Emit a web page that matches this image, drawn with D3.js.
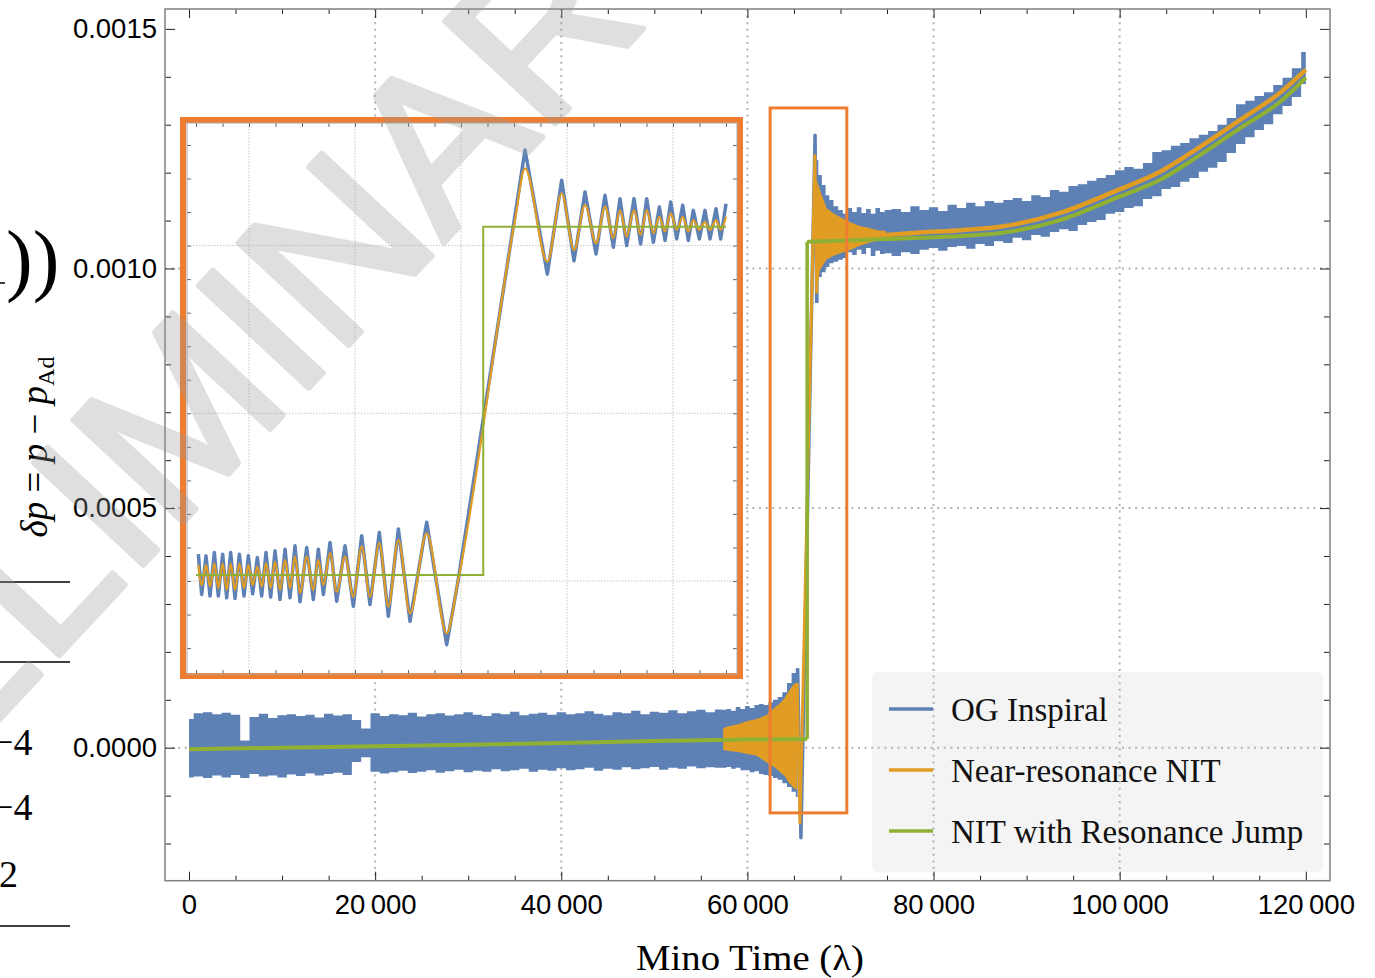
<!DOCTYPE html>
<html>
<head>
<meta charset="utf-8">
<script src="https://d3js.org/d3.v7.min.js"></script>
<style>
body { margin: 0; background: #fff; }
</style>
</head>
<body>
<div id="viz"></div>
<script>
// ---------- data (delta p values are in units of 1e-4) ----------
const xTicks = [0, 20000, 40000, 60000, 80000, 100000, 120000];
const yTicks = [0, 5, 10, 15];
const xGrid = [20000, 40000, 60000, 80000, 100000];
const yGrid = [0, 5, 10];
const seriesNames = ["OG Inspiral", "Near-resonance NIT", "NIT with Resonance Jump"];
const seriesColors = ["#5e81b5", "#e19c24", "#8fb032"];

// OG Inspiral: envelope (top / bottom) of the fast oscillation
const bandT = [0,1000,2000,3000,4000,5000,6000,7000,8000,9000,10000,11000,12000,13000,14000,15000,16000,17000,18000,19000,
  20000,21000,22000,23000,24000,25000,26000,27000,28000,29000,30000,31000,32000,33000,34000,35000,36000,37000,38000,39000,
  40000,41000,42000,43000,44000,45000,46000,47000,48000,49000,50000,51000,52000,53000,54000,55000,56000,57000,
  57500,58000,58500,59000,59500,60000,60500,61000,61500,62000,62500,63000,63500,64000,64500,65000,65400,
  67450,67800,68200,68600,69000,69500,70000,70500,71000,71500,72000,72500,73000,73500,74000,74500,75000,
  76000,77000,78000,79000,80000,81000,82000,83000,84000,85000,86000,87000,88000,89000,90000,91000,92000,93000,94000,95000,
  96000,97000,98000,99000,100000,101000,102000,103000,104000,105000,106000,107000,108000,109000,110000,111000,112000,113000,
  114000,115000,116000,117000,118000,119000,120000];
const bandHi = [0.60,0.72,0.74,0.70,0.73,0.69,0.15,0.64,0.71,0.62,0.68,0.70,0.66,0.69,0.63,0.71,0.67,0.70,0.58,0.40,
  0.72,0.66,0.70,0.68,0.73,0.65,0.70,0.72,0.67,0.70,0.74,0.69,0.66,0.72,0.70,0.75,0.68,0.71,0.73,0.69,
  0.74,0.70,0.72,0.76,0.71,0.68,0.74,0.72,0.77,0.70,0.75,0.73,0.78,0.72,0.76,0.79,0.74,0.80,
  0.79,0.81,0.77,0.85,0.81,0.87,0.83,0.89,0.91,0.89,0.95,1.00,1.06,1.16,1.35,1.56,1.66,
  12.26,11.95,11.74,11.53,11.43,11.30,11.22,11.14,11.26,11.18,11.28,11.16,11.24,11.14,11.26,11.18,11.22,
  11.24,11.18,11.30,11.22,11.28,11.20,11.33,11.26,11.37,11.30,11.41,11.37,11.43,11.47,11.41,11.53,11.49,11.64,11.60,11.72,
  11.76,11.83,11.89,11.95,12.05,12.12,12.08,12.20,12.43,12.47,12.56,12.62,12.72,12.79,12.87,13.00,13.14,13.43,
  13.50,13.60,13.68,13.83,13.98,14.18,14.52];
const bandLo = [-0.62,-0.60,-0.63,-0.58,-0.62,-0.57,-0.63,-0.55,-0.60,-0.58,-0.62,-0.56,-0.59,-0.54,-0.58,-0.55,-0.52,-0.57,-0.30,-0.20,
  -0.50,-0.54,-0.51,-0.48,-0.53,-0.50,-0.47,-0.52,-0.49,-0.46,-0.51,-0.48,-0.50,-0.45,-0.49,-0.47,-0.44,-0.50,-0.46,-0.48,
  -0.43,-0.47,-0.45,-0.42,-0.48,-0.44,-0.46,-0.41,-0.45,-0.43,-0.40,-0.46,-0.42,-0.44,-0.39,-0.43,-0.41,-0.42,
  -0.42,-0.40,-0.44,-0.42,-0.47,-0.47,-0.51,-0.49,-0.55,-0.57,-0.59,-0.63,-0.67,-0.74,-0.82,-0.92,-1.03,
  9.28,9.82,9.92,10.03,10.11,10.14,10.18,10.22,10.34,10.28,10.39,10.30,10.43,10.26,10.37,10.30,10.32,
  10.26,10.34,10.30,10.39,10.43,10.37,10.45,10.47,10.41,10.51,10.47,10.57,10.53,10.64,10.59,10.70,10.66,10.76,10.82,10.78,
  10.91,10.97,11.01,11.14,11.18,11.26,11.30,11.45,11.51,11.66,11.70,11.81,11.89,12.02,12.10,12.22,12.41,12.60,
  12.74,12.89,13.01,13.22,13.39,13.58,13.85];
// OG Inspiral through the resonance (plunge and overshoot)
const blueJumpT = [65400, 65750, 67270, 67450];
const blueJumpV = [1.66, -1.88, 12.78, 9.28];

// Near-resonance NIT: envelope of its oscillation, jump, and the curve afterwards
const orangeBandT = [57400,58000,59000,60000,61000,62000,63000,63500,64000,64500,65000,65350,
  67450,67800,68500,69200,70000,71000,72000,73000,74000,74900];
const orangeBandHi = [0.41,0.45,0.49,0.56,0.60,0.68,0.85,0.93,1.04,1.20,1.33,1.35,
  11.85,11.64,11.26,11.16,11.07,10.97,10.89,10.85,10.80,10.78];
const orangeBandLo = [-0.05,-0.07,-0.09,-0.13,-0.17,-0.30,-0.42,-0.51,-0.59,-0.74,-0.84,-0.88,
  9.48,9.97,10.18,10.26,10.32,10.38,10.47,10.53,10.59,10.63];
const orangeJumpT = [65350, 65650, 67250, 67450];
const orangeJumpV = [1.35, -1.57, 12.36, 9.48];
const orangeLineT = [74900, 78560, 83000, 87160, 93610, 99840, 104350, 108650, 112950, 117250, 120000];
const orangeLineV = [10.70, 10.75, 10.80, 10.87, 11.16, 11.64, 12.02, 12.54, 13.10, 13.67, 14.15];

// NIT with Resonance Jump
const greenPreT = [0, 10000, 20000, 30000, 40000, 50000, 60000, 66420];
const greenPreV = [-0.03, 0.00, 0.03, 0.06, 0.10, 0.14, 0.17, 0.18];
const greenPostT = [66420, 70000, 74000, 78560, 83000, 87160, 93610, 99840, 104350, 108650, 112950, 117250, 120000];
const greenPostV = [10.56, 10.58, 10.61, 10.64, 10.68, 10.74, 11.01, 11.49, 11.85, 12.37, 12.93, 13.48, 13.98];

// highlighted resonance window (time range, value range)
const resWinT = [62440, 70680];
const resWinV = [-1.36, 13.35];

// inset: zoom of the resonance crossing
const insetXGrid = [62000, 64000, 66000, 68000, 70000];
const insetOrangeT = [61044,61107,61189,61264,61346,61421,61503,61579,61654,61736,61818,61906,61988,62069,62157,62239,
  62321,62409,62491,62585,62680,62774,62868,62963,63088,63214,63308,63403,63529,63654,63812,63969,64126,64283,64459,
  64629,64818,65038,65353,65730,65944,67019,67208,67629,67900,68132,68340,68548,68717,68875,69001,69126,69265,69390,
  69504,69630,69743,69850,69957,70070,70183,70290,70384,70498,70604,70699,70812,70900,71001];
const insetOrangeV = [0.48,-0.12,0.48,-0.17,0.53,-0.21,0.53,-0.27,0.53,-0.27,0.53,-0.21,0.48,-0.12,0.43,-0.17,
  0.53,-0.21,0.58,-0.27,0.63,-0.21,0.73,-0.36,0.73,-0.27,0.63,-0.12,0.83,-0.32,0.73,-0.47,1.03,-0.47,1.13,
  -0.76,1.23,-0.96,1.42,-1.56,0.00,10.76,12.30,9.52,11.56,9.87,11.21,10.07,11.16,10.22,11.06,10.27,11.06,10.32,
  11.06,10.37,10.86,10.42,10.96,10.47,10.86,10.42,10.76,10.47,10.71,10.47,10.76,10.47,10.86];
const insetBlueV = [0.80,-0.40,0.75,-0.45,0.85,-0.45,0.80,-0.50,0.85,-0.52,0.80,-0.45,0.75,-0.38,0.70,-0.45,
  0.85,-0.48,0.90,-0.55,0.95,-0.50,1.05,-0.62,1.00,-0.55,0.95,-0.40,1.15,-0.60,1.05,-0.75,1.35,-0.70,1.45,
  -1.05,1.55,-1.20,1.75,-1.90,0.00,10.90,12.85,9.15,11.95,9.55,11.60,9.75,11.50,9.95,11.40,10.00,11.40,10.05,
  11.40,10.10,11.15,10.15,11.30,10.20,11.20,10.15,11.05,10.20,11.05,10.20,11.10,10.20,11.25];
const insetGreenT = [61000, 66420, 66420, 71000];
const insetGreenV = [0.18, 0.18, 10.56, 10.56];

// ---------- layout ----------
const W = 1375, H = 978;
const F = {left: 165, right: 1330, top: 9, bottom: 880.7};
const IN = {left: 187, right: 737, top: 123, bottom: 674};
const SANS = "'Liberation Sans', Arial, sans-serif";
const SERIF = "'Liberation Serif', 'Times New Roman', serif";

const svg = d3.select("#viz").append("svg").attr("width", W).attr("height", H)
  .style("font-family", SANS);
svg.append("rect").attr("width", W).attr("height", H).attr("fill", "#fff");

const x = d3.scaleLinear().domain([-2580, 122600]).range([F.left, F.right]);
const y = d3.scaleLinear().domain([-2.775, 15.415]).range([F.bottom, F.top]);

const defs = svg.append("defs");
defs.append("clipPath").attr("id", "clipMain").append("rect")
  .attr("x", F.left).attr("y", F.top).attr("width", F.right - F.left).attr("height", F.bottom - F.top);
defs.append("clipPath").attr("id", "clipInset").append("rect")
  .attr("x", IN.left).attr("y", IN.top).attr("width", IN.right - IN.left).attr("height", IN.bottom - IN.top);

// legend background (under the grid)
svg.append("rect").attr("x", 872).attr("y", 672).attr("width", 451).attr("height", 200)
  .attr("rx", 6).attr("fill", "#f4f4f4");

// grid
const grid = svg.append("g").attr("stroke", "#b3b3b3").attr("stroke-width", 2).attr("stroke-dasharray", "2,4.6");
grid.selectAll(".gx").data(xGrid).join("line")
  .attr("x1", d => x(d)).attr("x2", d => x(d)).attr("y1", F.top).attr("y2", F.bottom);
grid.selectAll(".gy").data(yGrid).join("line")
  .attr("y1", d => y(d)).attr("y2", d => y(d)).attr("x1", F.left).attr("x2", F.right);

// ---------- main data ----------
const plot = svg.append("g").attr("clip-path", "url(#clipMain)");
const band = bandT.map((t, i) => ({t, hi: bandHi[i], lo: bandLo[i]}));
const bandArea = d3.area().x(d => x(d.t)).y0(d => y(d.lo)).y1(d => y(d.hi)).curve(d3.curveStep);
[band.filter(d => d.t <= 65400), band.filter(d => d.t >= 67450)].forEach(seg => {
  plot.append("path").attr("d", bandArea(seg)).attr("fill", seriesColors[0]);
});
const lineOf = (xs, ys) => d3.line().x((d, i) => xs(d[0])).y(d => ys(d[1]));
const pairs = (T, V) => T.map((t, i) => [t, V[i]]);

plot.append("path").attr("d", lineOf(x, y)(pairs(blueJumpT, blueJumpV)))
  .attr("fill", "none").attr("stroke", seriesColors[0]).attr("stroke-width", 3.5).attr("stroke-linejoin", "round");

const oBand = orangeBandT.map((t, i) => ({t, hi: orangeBandHi[i], lo: orangeBandLo[i]}));
const oArea = d3.area().x(d => x(d.t)).y0(d => y(d.lo)).y1(d => y(d.hi));
[oBand.filter(d => d.t <= 65350), oBand.filter(d => d.t >= 67450)].forEach(seg => {
  plot.append("path").attr("d", oArea(seg)).attr("fill", seriesColors[1]);
});
plot.append("path").attr("d", lineOf(x, y)(pairs(orangeJumpT, orangeJumpV)))
  .attr("fill", "none").attr("stroke", seriesColors[1]).attr("stroke-width", 3).attr("stroke-linejoin", "round");
plot.append("path").attr("d", lineOf(x, y).curve(d3.curveMonotoneX)(pairs(orangeLineT, orangeLineV)))
  .attr("fill", "none").attr("stroke", seriesColors[1]).attr("stroke-width", 4.5);

const gPre = pairs(greenPreT, greenPreV), gPost = pairs(greenPostT, greenPostV);
plot.append("path").attr("d", lineOf(x, y)(gPre))
  .attr("fill", "none").attr("stroke", seriesColors[2]).attr("stroke-width", 4);
plot.append("path").attr("d", lineOf(x, y)([gPre[gPre.length - 1], gPost[0]]))
  .attr("fill", "none").attr("stroke", seriesColors[2]).attr("stroke-width", 3.5);
plot.append("path").attr("d", lineOf(x, y).curve(d3.curveMonotoneX)(gPost))
  .attr("fill", "none").attr("stroke", seriesColors[2]).attr("stroke-width", 4);

// ---------- main frame and ticks ----------
function ticks(g, axis, tv, size, fmt) {
  g.call(axis.tickValues(tv).tickSize(size).tickFormat(fmt || ""));
  g.select(".domain").remove();
  g.selectAll(".tick line").attr("stroke", "#222");
  return g;
}
const xMinor = d3.range(0, 122600, 5000).filter(v => v % 20000 !== 0);
const yMinor = d3.range(-2, 16, 1).filter(v => v % 5 !== 0);
const fmtX = d => d3.format(",")(d).replace(/,/g, "\u2009");
const fmtY = d => (d * 1e-4).toFixed(4);

const axes = svg.append("g");
const bottom = ticks(axes.append("g").attr("transform", `translate(0,${F.bottom})`), d3.axisBottom(x), xTicks, -9, fmtX);
bottom.selectAll("text").attr("y", 14).attr("font-size", 27.5).attr("font-family", SANS).attr("fill", "#000");
ticks(axes.append("g").attr("transform", `translate(0,${F.bottom})`), d3.axisBottom(x), xMinor, -5);
ticks(axes.append("g").attr("transform", `translate(0,${F.top})`), d3.axisTop(x), xTicks, -9);
ticks(axes.append("g").attr("transform", `translate(0,${F.top})`), d3.axisTop(x), xMinor, -5);
const left = ticks(axes.append("g").attr("transform", `translate(${F.left},0)`), d3.axisLeft(y), yTicks, -10, fmtY);
left.selectAll("text").attr("x", -8).attr("font-size", 27.5).attr("font-family", SANS).attr("fill", "#000");
ticks(axes.append("g").attr("transform", `translate(${F.left},0)`), d3.axisLeft(y), yMinor, -6);
ticks(axes.append("g").attr("transform", `translate(${F.right},0)`), d3.axisRight(y), yTicks, -10);
ticks(axes.append("g").attr("transform", `translate(${F.right},0)`), d3.axisRight(y), yMinor, -6);
axes.append("rect").attr("x", F.left).attr("y", F.top).attr("width", F.right - F.left).attr("height", F.bottom - F.top)
  .attr("fill", "none").attr("stroke", "#808080").attr("stroke-width", 1.5);

svg.append("text").attr("x", 750).attr("y", 970).attr("text-anchor", "middle")
  .attr("font-family", SERIF).attr("font-size", 36).attr("textLength", 228).attr("lengthAdjust", "spacingAndGlyphs")
  .text("Mino Time (λ)");

// resonance window
svg.append("rect")
  .attr("x", x(resWinT[0])).attr("y", y(resWinV[1]))
  .attr("width", x(resWinT[1]) - x(resWinT[0])).attr("height", y(resWinV[0]) - y(resWinV[1]))
  .attr("fill", "none").attr("stroke", "#ee7d31").attr("stroke-width", 3);

// ---------- legend ----------
const leg = svg.append("g");
seriesNames.forEach((name, i) => {
  const ly = 709 + i * 61;
  leg.append("line").attr("x1", 889).attr("x2", 933).attr("y1", ly).attr("y2", ly)
    .attr("stroke", seriesColors[i]).attr("stroke-width", 3.5);
  leg.append("text").attr("x", 951).attr("y", ly + 12).attr("font-family", SERIF).attr("font-size", 33)
    .attr("fill", "#111").text(name);
});

// ---------- inset ----------
const ix = d3.scaleLinear().domain([60830, 71208]).range([IN.left, IN.right]);
const iy = d3.scaleLinear().domain([-2.772, 13.655]).range([IN.bottom, IN.top]);
const inset = svg.append("g");
inset.append("rect").attr("x", 183).attr("y", 120).attr("width", 557).attr("height", 556)
  .attr("fill", "#fff").attr("stroke", "#ee7d31").attr("stroke-width", 6);
const ig = inset.append("g").attr("stroke", "#c8c8c8").attr("stroke-width", 1).attr("stroke-dasharray", "1.5,1.5");
ig.selectAll(".ix").data(insetXGrid).join("line")
  .attr("x1", d => ix(d)).attr("x2", d => ix(d)).attr("y1", IN.top).attr("y2", IN.bottom);
ig.selectAll(".iy").data(yGrid).join("line")
  .attr("y1", d => iy(d)).attr("y2", d => iy(d)).attr("x1", IN.left).attr("x2", IN.right);
const iplot = inset.append("g").attr("clip-path", "url(#clipInset)");
iplot.append("path").attr("d", lineOf(ix, iy)(pairs(insetOrangeT, insetBlueV)))
  .attr("fill", "none").attr("stroke", seriesColors[0]).attr("stroke-width", 3.5).attr("stroke-linejoin", "round");
iplot.append("path").attr("d", lineOf(ix, iy).curve(d3.curveMonotoneX)(pairs(insetOrangeT, insetOrangeV)))
  .attr("fill", "none").attr("stroke", seriesColors[1]).attr("stroke-width", 2.2);
iplot.append("path").attr("d", lineOf(ix, iy)(pairs(insetGreenT, insetGreenV)))
  .attr("fill", "none").attr("stroke", seriesColors[2]).attr("stroke-width", 2);
const iMinorX = d3.range(61000, 71208, 500);
const iMinorY = d3.range(-2, 14, 1);
const itk = (g, axis, tv) => { g.call(axis.tickValues(tv).tickSize(-4).tickFormat("")); g.select(".domain").remove();
  g.selectAll(".tick line").attr("stroke", "#666"); };
itk(inset.append("g").attr("transform", `translate(0,${IN.bottom})`), d3.axisBottom(ix), iMinorX);
itk(inset.append("g").attr("transform", `translate(0,${IN.top})`), d3.axisTop(ix), iMinorX);
itk(inset.append("g").attr("transform", `translate(${IN.left},0)`), d3.axisLeft(iy), iMinorY);
itk(inset.append("g").attr("transform", `translate(${IN.right},0)`), d3.axisRight(iy), iMinorY);
inset.append("rect").attr("x", IN.left).attr("y", IN.top).attr("width", IN.right - IN.left).attr("height", IN.bottom - IN.top)
  .attr("fill", "none").attr("stroke", "#aaa").attr("stroke-width", 1);

// ---------- cropped neighbour figure on the left edge ----------
const side = svg.append("g").attr("font-family", SERIF).attr("fill", "#000");
side.append("text").attr("x", 6).attr("y", 286).attr("font-size", 80).text("))");
side.append("line").attr("x1", 0).attr("x2", 5).attr("y1", 283).attr("y2", 283).attr("stroke", "#000").attr("stroke-width", 1.5);
const lab = side.append("text").attr("transform", "translate(47,447) rotate(-90)").attr("text-anchor", "middle")
  .attr("font-size", 37);
lab.append("tspan").attr("font-style", "italic").text("δp");
lab.append("tspan").text(" = ");
lab.append("tspan").attr("font-style", "italic").text("p");
lab.append("tspan").text(" − ");
lab.append("tspan").attr("font-style", "italic").text("p");
lab.append("tspan").attr("font-size", 24).attr("dy", 7).text("Ad");
[582, 662, 926].forEach(ry => side.append("line").attr("x1", 0).attr("x2", 70).attr("y1", ry).attr("y2", ry)
  .attr("stroke", "#000").attr("stroke-width", 1.5));
side.append("text").attr("x", -8).attr("y", 755).attr("font-size", 38).text("−4");
side.append("text").attr("x", -8).attr("y", 820).attr("font-size", 38).text("−4");
side.append("text").attr("x", -1).attr("y", 887).attr("font-size", 38).text("2");

// ---------- watermark ----------
svg.append("g").attr("opacity", 0.3)
  .append("text").attr("transform", "translate(244,457) rotate(-47)").attr("text-anchor", "middle")
  .attr("font-family", SANS).attr("font-size", 218).attr("fill", "#999").attr("stroke", "#999")
  .attr("stroke-width", 6).attr("stroke-linejoin", "round").text("PRELIMINARY");
</script>
</body>
</html>
